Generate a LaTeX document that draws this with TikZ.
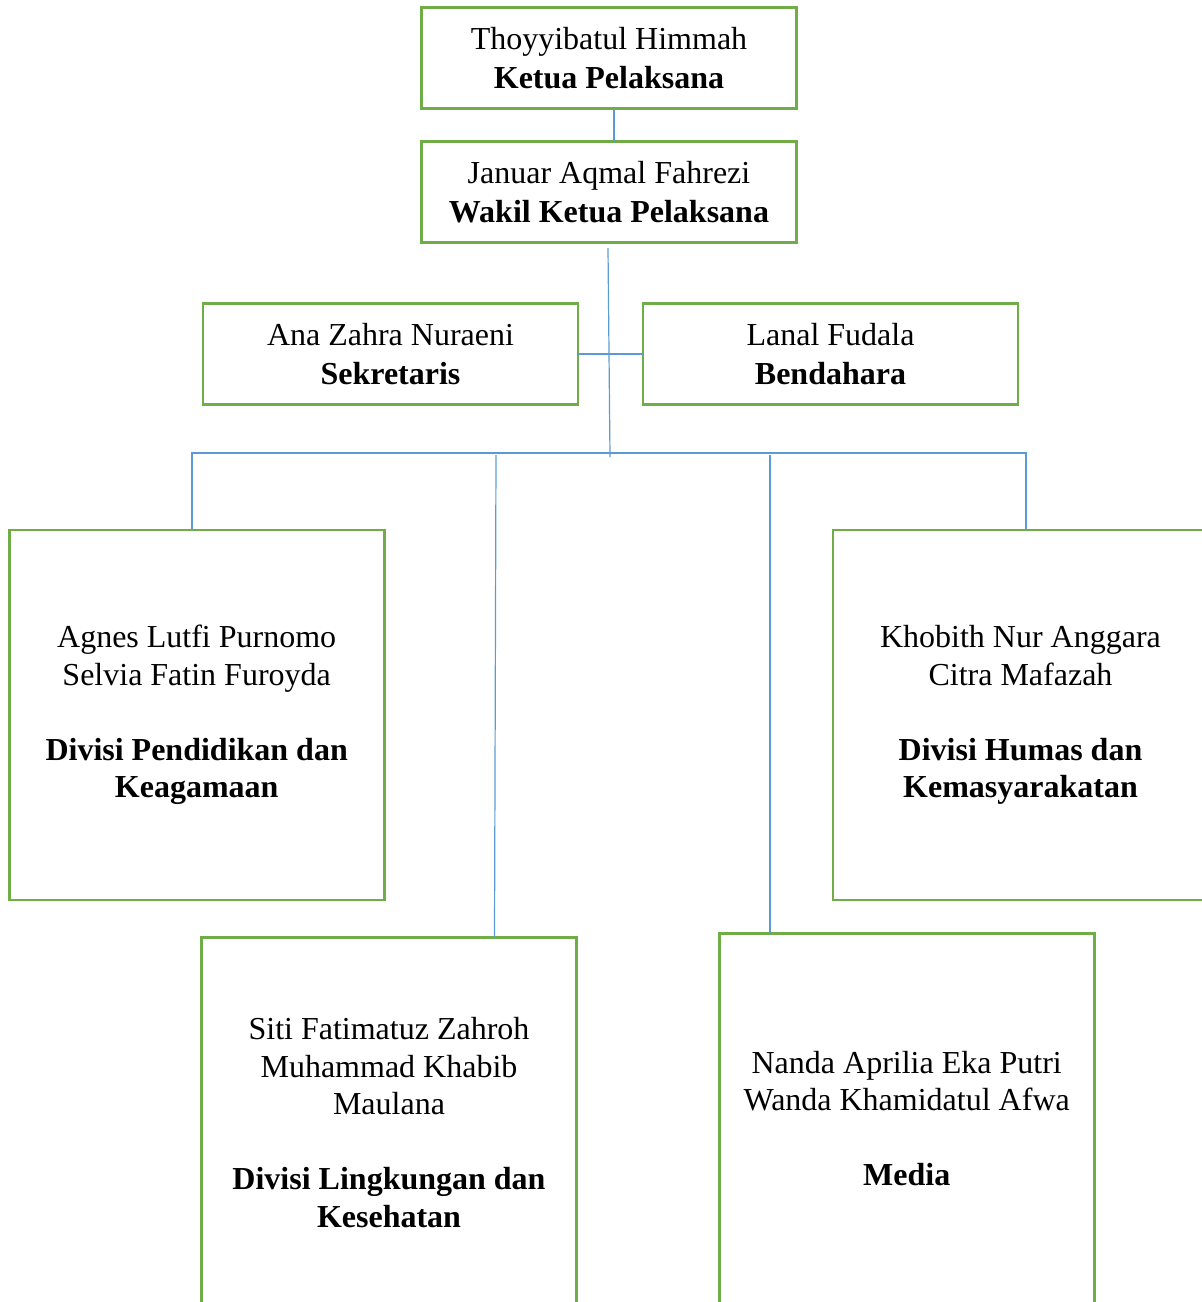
\documentclass[tikz,border=0pt]{standalone}
\usepackage{fontspec}
\setmainfont{Liberation Serif}
\usetikzlibrary{positioning}
\definecolor{boxgreen}{HTML}{70AD47}
\definecolor{linkblue}{HTML}{5B9BD5}
\tikzstyle{org chart}=[
    x=1pt, y=-1pt, node distance=33pt and 65pt,
    every node/.style={
        align=center,
        font=\fontsize{32}{37.5}\selectfont,
    },
    rolebox/.style={
        draw=boxgreen, line width=2.6pt, outer sep=0pt, inner sep=2pt,
        minimum width=375pt, minimum height=101pt,
        font=\fontsize{32}{39}\selectfont,
    },
    teambox/.style={
        rolebox, minimum height=370pt,
        font=\fontsize{32}{37.5}\selectfont,
    },
    link/.style={linkblue, line width=1.2pt},
]
\newcommand{\rolelabel}[2]{#1\\\textbf{#2}}
\newcommand{\teamgap}{\\[37.5pt]}

\begin{document}
\begin{tikzpicture}[org chart]
        \clip (0,0) rectangle (1202,1302);
        \node[rolebox] (ketua) at (609,58) {\rolelabel{Thoyyibatul Himmah}{Ketua Pelaksana}};
        \node[rolebox, below=of ketua] (wakil) {\rolelabel{Januar Aqmal Fahrezi}{Wakil Ketua Pelaksana}};
        \node[rolebox] (sekretaris) at (390.5,354) {\rolelabel{Ana Zahra Nuraeni}{Sekretaris}};
        \node[rolebox, right=of sekretaris] (bendahara) {\rolelabel{Lanal Fudala}{Bendahara}};

        % divisions
        \node[teambox] (pendidikan) at (196.7,715) {Agnes Lutfi Purnomo\\Selvia Fatin Furoyda\teamgap
            \textbf{Divisi Pendidikan dan}\\\textbf{Keagamaan}};
        \node[teambox] (humas) at (1020.5,715) {Khobith Nur Anggara\\Citra Mafazah\teamgap
            \textbf{Divisi Humas dan}\\\textbf{Kemasyarakatan}};
        \node[teambox] (lingkungan) at (389,1122.5) {Siti Fatimatuz Zahroh\\Muhammad Khabib\\Maulana\teamgap
            \textbf{Divisi Lingkungan dan}\\\textbf{Kesehatan}};
        \node[teambox] (media) at (906.7,1118.3) {Nanda Aprilia Eka Putri\\Wanda Khamidatul Afwa\teamgap
            \textbf{Media}};

        \coordinate (trunk top) at (608,248);
        \coordinate (trunk end) at (610,457);
        \coordinate (bus) at (610,453);
        \coordinate (drop l) at (496,455);
        \coordinate (drop r) at (770,455);

        \draw[link] ([xshift=5pt]ketua.south) -- ([xshift=5pt]wakil.north);
        \draw[link] (trunk top) -- (trunk end);
        \draw[link] (sekretaris.east) -- (bendahara.west);
        \draw[link] ([xshift=-4.7pt]pendidikan.north) |- (bus) -| ([xshift=5.5pt]humas.north);
        \draw[link] (drop l) -- ([xshift=105.5pt]lingkungan.north);
        \draw[link] (drop r) -- (drop r |- media.north);
    \end{tikzpicture}
\end{document}
